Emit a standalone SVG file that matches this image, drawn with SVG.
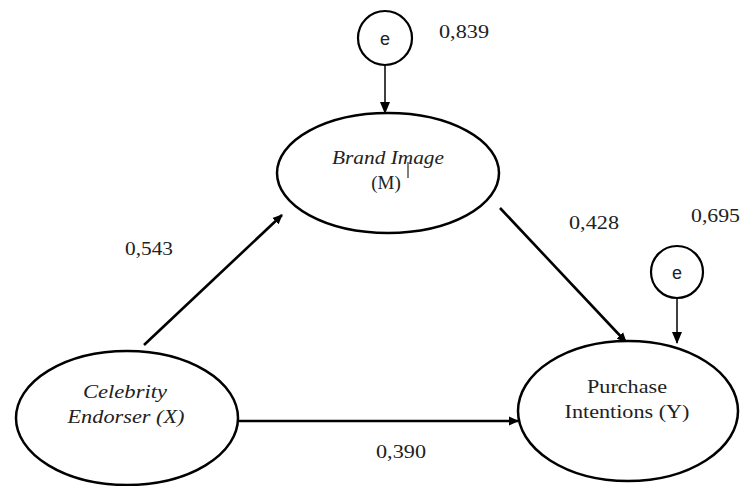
<svg xmlns="http://www.w3.org/2000/svg" width="740" height="486" viewBox="0 0 740 486">
<style>
.node{fill:#fff;stroke:#000;stroke-width:2.5}
.err{fill:#fff;stroke:#000;stroke-width:2.2}
.t{font-family:"Liberation Serif","Times New Roman",serif;font-size:19px;fill:#222;text-anchor:middle}
.i{font-style:italic}
.e{font-family:"Liberation Sans",Arial,sans-serif;font-size:18px;fill:#222;text-anchor:middle}
.lbl{font-family:"Liberation Serif","Times New Roman",serif;font-size:19px;fill:#222}
.c{stroke:#000;fill:none}
.main{stroke-width:2.6}
.thin{stroke-width:1.5}
</style>
<defs>
<marker id="ah" markerWidth="10" markerHeight="10" refX="9" refY="5" orient="auto" markerUnits="userSpaceOnUse" viewBox="0 0 10 10">
<path d="M0,0.5 L10,5 L0,9.5 Z" fill="#000"/>
</marker>
<marker id="ahs" markerWidth="12" markerHeight="10" refX="11" refY="5" orient="auto" markerUnits="userSpaceOnUse" viewBox="0 0 12 10">
<path d="M0,0 L12,5 L0,10 Z" fill="#000"/>
</marker>
</defs>
<g id="connectors">
<line class="c thin" x1="385" y1="66" x2="385" y2="113" marker-end="url(#ahs)"/>
<line class="c thin" x1="677" y1="298" x2="677" y2="343" marker-end="url(#ahs)"/>
<line class="c main" x1="144" y1="345" x2="282" y2="215" marker-end="url(#ah)"/>
<line class="c main" x1="500" y1="208" x2="626" y2="342" marker-end="url(#ah)"/>
<line class="c main" x1="239" y1="421" x2="518" y2="421" marker-end="url(#ah)"/>
</g>
<g id="e1">
<ellipse class="err" cx="385" cy="38" rx="27" ry="27"/>
<text class="e" x="385" y="45">e</text>
</g>
<g id="e2">
<ellipse class="err" cx="677" cy="272" rx="26" ry="26"/>
<text class="e" x="677" y="279">e</text>
</g>
<g id="brand">
<ellipse class="node" cx="388" cy="173" rx="111" ry="60"/>
<text class="t i" x="388" y="164" textLength="112" lengthAdjust="spacingAndGlyphs">Brand Image</text>
<text class="t" x="386" y="189">(M)</text>
<line x1="408" y1="162" x2="408" y2="178" stroke="#000" stroke-width="1"/>
</g>
<g id="celebrity">
<ellipse class="node" cx="127" cy="418" rx="111" ry="67"/>
<text class="t i" x="125" y="398" textLength="84" lengthAdjust="spacingAndGlyphs">Celebrity</text>
<text class="t i" x="126" y="423" textLength="117" lengthAdjust="spacingAndGlyphs">Endorser (X)</text>
</g>
<g id="purchase">
<ellipse class="node" cx="628" cy="411" rx="110" ry="70"/>
<text class="t" x="627" y="393" textLength="80" lengthAdjust="spacingAndGlyphs">Purchase</text>
<text class="t" x="627" y="418" textLength="125" lengthAdjust="spacingAndGlyphs">Intentions (Y)</text>
</g>
<g id="labels">
<text class="lbl" x="439" y="38" textLength="50" lengthAdjust="spacingAndGlyphs">0,839</text>
<text class="lbl" x="125" y="255" textLength="48" lengthAdjust="spacingAndGlyphs">0,543</text>
<text class="lbl" x="569" y="229" textLength="50" lengthAdjust="spacingAndGlyphs">0,428</text>
<text class="lbl" x="691" y="222" textLength="49" lengthAdjust="spacingAndGlyphs">0,695</text>
<text class="lbl" x="376" y="458" textLength="50" lengthAdjust="spacingAndGlyphs">0,390</text>
</g>
</svg>
